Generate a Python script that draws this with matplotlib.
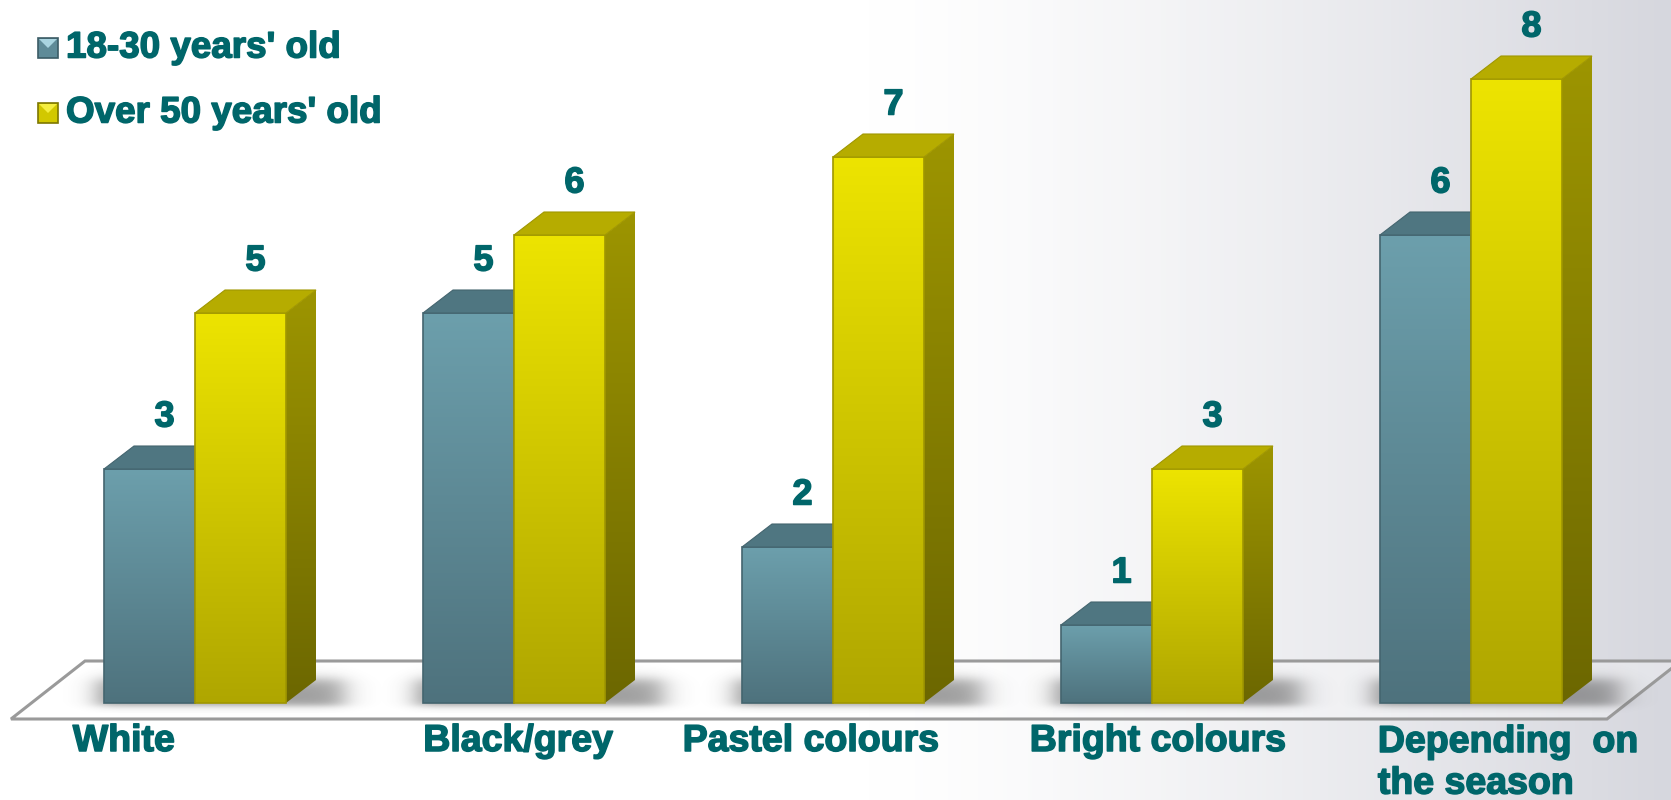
import numpy as np
import matplotlib
matplotlib.use("Agg")
import matplotlib.pyplot as plt
import matplotlib.patheffects as pe
from matplotlib.patches import Polygon, Rectangle
from matplotlib.colors import to_rgb

# survey results: preferred clothing colours by age group
categories = ["White", "Black/grey", "Pastel colours", "Bright colours", "Depending  on\nthe season"]
series_names = ["18-30 years' old", "Over 50 years' old"]
young = [3, 5, 2, 1, 6]
older = [5, 6, 7, 3, 8]

W, H = 1671, 800
plt.rcParams['font.family'] = ['Liberation Sans', 'DejaVu Sans']
text_col = '#00666a'
heavy = [pe.withStroke(linewidth=1.1, foreground=text_col)]

fig = plt.figure(figsize=(W / 100, H / 100), dpi=100)

# background: white on the left fading to a cool grey on the right
bg = fig.add_axes([0, 0, 1, 1], zorder=0)
xs = np.linspace(0, 1, 400)
t = np.clip((xs - 0.52) / 0.48, 0, 1) ** 1.3
c0 = np.array(to_rgb('#ffffff'))
c1 = np.array(to_rgb('#d6d7de'))
grad = c0[None, :] * (1 - t[:, None]) + c1[None, :] * t[:, None]
bg.imshow(grad[None, :, :], extent=(0, 1, 0, 1), aspect='auto')
bg.set_xlim(0, 1)
bg.set_ylim(0, 1)
bg.axis('off')

ax = fig.add_axes([0, 0, 1, 1], zorder=1)
ax.patch.set_alpha(0)

# layout in pixels -> data units
base_px, unit_px = 703, 78.0
x0_px, step_px = 195, 319.0
xlim = (-x0_px / step_px, (W - x0_px) / step_px)
ylim = (-(H - base_px) / unit_px, base_px / unit_px)
bar_w = 91 / step_px
dx = 30 / step_px
dy = 23 / unit_px
px_x = 1 / step_px
px_y = 1 / unit_px


def vgrad(top, bottom, n=200):
    a = np.array(to_rgb(top))
    b = np.array(to_rgb(bottom))
    s = np.linspace(0, 1, n)[:, None]
    return (a * (1 - s) + b * s)[:, None, :]


# floor
f_front, f_back = -16 * px_y, 42 * px_y
f_l, f_r = (11 - x0_px) * px_x, (1607 - x0_px) * px_x
f_off = 74 * px_x
floor = Polygon([(f_l, f_front), (f_r, f_front), (f_r + f_off, f_back), (f_l + f_off, f_back)],
                closed=True, facecolor='white', alpha=0.35, edgecolor='none', zorder=1)
ax.add_patch(floor)
ax.plot([f_r + f_off, f_l + f_off, f_l, f_r, f_r + f_off],
        [f_back, f_back, f_front, f_front, f_back], color='#9a9a9a', lw=2.2, zorder=2,
        solid_joinstyle='miter')

# soft shadows behind each pair of bars
for i in range(len(categories)):
    gl = i - bar_w
    gr = i + bar_w + dx
    ex = (gl - 45 * px_x, gr + 70 * px_x, -10 * px_y, 45 * px_y)
    gx = np.linspace(ex[0], ex[1], 300)
    gy = np.linspace(ex[3], ex[2], 80)
    axx = 0.5 * (np.tanh((gx - (gl - 8 * px_x)) / (14 * px_x)) - np.tanh((gx - (gr + 28 * px_x)) / (16 * px_x)))
    ayy = 0.5 * (np.tanh((gy - (-3 * px_y)) / (4 * px_y)) - np.tanh((gy - 24 * px_y) / (7 * px_y)))
    alpha = np.clip(ayy[:, None] * axx[None, :], 0, 1) * 0.5
    img = np.zeros((len(gy), len(gx), 4))
    img[..., :3] = 0.25
    img[..., 3] = alpha
    ax.imshow(img, extent=ex, aspect='auto', zorder=3, interpolation='bilinear')

# colours for front / side / top faces
teal = dict(front=('#6c9fac', '#4e727d'), side=('#3f5f69', '#2f4a52'), top='#4f7681', edge='#44656f')
yellow = dict(front=('#ede400', '#afa600'), side=('#9d9500', '#6c6700'), top='#b6ac00', edge='#a09700')


def draw_bar(x_left, value, pal, z):
    x_right = x_left + bar_w
    side = Polygon([(x_right, 0), (x_right + dx, dy), (x_right + dx, value + dy), (x_right, value)],
                   closed=True, facecolor='none', edgecolor='none')
    ax.add_patch(side)
    im = ax.imshow(vgrad(*pal['side']), extent=(x_right, x_right + dx, 0, value + dy),
                   aspect='auto', zorder=z, interpolation='bilinear')
    im.set_clip_path(side)
    ax.imshow(vgrad(*pal['front']), extent=(x_left, x_right, 0, value),
              aspect='auto', zorder=z + 0.1, interpolation='bilinear')
    ax.add_patch(Rectangle((x_left, 0), bar_w, value, facecolor='none',
                           edgecolor=pal['edge'], lw=1.2, zorder=z + 0.2))
    top = Polygon([(x_left, value), (x_right, value), (x_right + dx, value + dy), (x_left + dx, value + dy)],
                  closed=True, facecolor=pal['top'], edgecolor=pal['edge'], lw=0.8, zorder=z + 0.3)
    ax.add_patch(top)


for i in range(len(categories)):
    draw_bar(i - bar_w, young[i], teal, 4 + i)
    draw_bar(i, older[i], yellow, 4.5 + i)
    for xl, v in ((i - bar_w, young[i]), (i, older[i])):
        ax.text(xl + bar_w / 2 + dx / 2, v + dy + 29 * px_y, str(v), ha='center', va='center',
                fontsize=26, fontweight='bold', color=text_col, zorder=20, path_effects=heavy)

# category labels under the floor
label_x = [-0.223, 1.013, 1.931, 3.019]
for i, name in enumerate(categories[:4]):
    ax.text(label_x[i], -38 * px_y, name, ha='center', va='center', fontsize=27,
            fontweight='bold', color=text_col, zorder=20, path_effects=heavy)
ax.text(3.708, -21 * px_y, categories[4], ha='left', va='top', fontsize=27,
        fontweight='bold', color=text_col, zorder=20, linespacing=1.2, path_effects=heavy)

ax.set_xlim(*xlim)
ax.set_ylim(*ylim)
ax.set_aspect('auto')
ax.axis('off')

# legend with bevelled swatches
lg = fig.add_axes([0, 0, 1, 1], zorder=2)
lg.patch.set_alpha(0)
lg.set_xlim(0, W)
lg.set_ylim(H, 0)
lg.axis('off')
swatches = [('#5f8b98', '#a9d4e0', '#3c5c66'), ('#d2c800', '#f4ee40', '#7d7700')]
for k, name in enumerate(series_names):
    yc = 48 + k * 65
    x_a, x_b = 38, 58
    y_a, y_b = yc - 10, yc + 10
    lg.add_patch(Rectangle((x_a, y_a), x_b - x_a, y_b - y_a, facecolor=swatches[k][0],
                           edgecolor=swatches[k][2], lw=1.2))
    lg.add_patch(Polygon([(x_a + 1, y_a + 1), (x_b - 1, y_a + 1), ((x_a + x_b) / 2, yc)],
                         closed=True, facecolor=swatches[k][1], edgecolor='none'))
    lg.text(66, yc, name, ha='left', va='center', fontsize=26.5, fontweight='bold',
            color=text_col, path_effects=heavy)

fig.savefig('out.png', dpi=100)
